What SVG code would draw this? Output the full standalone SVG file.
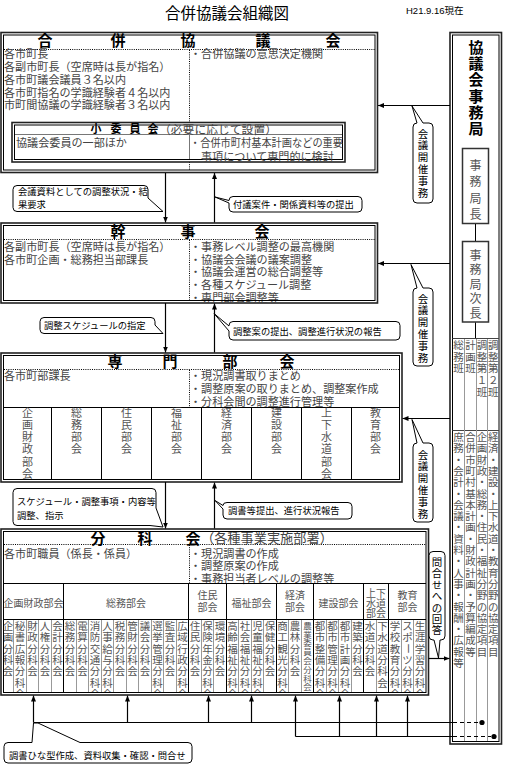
<svg xmlns="http://www.w3.org/2000/svg" width="510" height="764" viewBox="0 0 510 764">
<style>
text{font-family:"Liberation Sans","Noto Sans CJK JP",sans-serif}
.ob{fill:#fff;stroke:#222;stroke-width:1.6}
.ib{fill:none;stroke:#000;stroke-width:1}
.dt{fill:none;stroke:#000;stroke-width:1;stroke-dasharray:1 1.2}
.sl{fill:none;stroke:#000;stroke-width:1}
.gl{fill:none;stroke:#999;stroke-width:1}
.t{font-size:11.1px;fill:#444}
.h{font-size:15px;font-weight:bold;fill:#000;text-anchor:middle}
.v{fill:#555;text-anchor:middle}
.c{font-size:9.3px;fill:#000}
.cv{font-size:10.5px;fill:#000;text-anchor:middle}
.cb{fill:#fff;stroke:#000;stroke-width:1}
.cn{fill:none;stroke:#000;stroke-width:1.2}
.ar{fill:none;stroke:#000;stroke-width:1.2;marker-end:url(#ah)}
.k{font-size:10.5px}
.s{font-size:11px}
.j{font-size:10.5px}
.hd{font-size:10px;fill:#555;text-anchor:middle}
</style>
<defs>
<marker id="ah" viewBox="0 0 6 5" refX="6" refY="2.5" markerWidth="6" markerHeight="5" markerUnits="userSpaceOnUse" orient="auto"><path d="M0,0L6,2.5L0,5Z" fill="#000"/></marker>
<clipPath id="cs"><rect x="3.5" y="407.5" width="396" height="72"/></clipPath>
<clipPath id="cf"><rect x="3.5" y="619.5" width="422.5" height="73"/></clipPath>
</defs>

<g id="title">
<text x="227" y="19" font-size="15.5" text-anchor="middle" fill="#000">合併協議会組織図</text>
<text x="406" y="14" font-size="9.5" fill="#000">H21.9.16現在</text>
</g>

<g id="gappei">
<rect class="ob" x="1" y="32.5" width="376.5" height="140"/>
<rect class="ib" x="3.5" y="35" width="371.5" height="135"/>
<line class="dt" x1="4" y1="49.5" x2="375" y2="49.5"/>
<line class="dt" x1="189.5" y1="50" x2="189.5" y2="122"/>
<line class="dt" x1="189.5" y1="162" x2="189.5" y2="170"/>
<text class="h" y="46.2"><tspan x="45">合</tspan><tspan x="118">併</tspan><tspan x="188">協</tspan><tspan x="263">議</tspan><tspan x="333">会</tspan></text>
<text class="t" x="4"><tspan x="4" y="58.2">各市町長</tspan><tspan x="4" y="71">各副市町長（空席時は長が指名）</tspan><tspan x="4" y="83.8">各市町議会議員３名以内</tspan><tspan x="4" y="96.6">各市町指名の学識経験者４名以内</tspan><tspan x="4" y="109.4">市町間協議の学識経験者３名以内</tspan></text>
<text class="t" x="190" y="58.2">・合併協議の意思決定機関</text>
</g>

<g id="shoiinkai">
<rect class="ob" x="12" y="122.5" width="333" height="39.5"/>
<rect class="ib" x="14.5" y="125" width="328" height="34.5"/>
<line x1="15" y1="134.5" x2="342" y2="134.5" stroke="#777" stroke-width="1"/>
<line x1="189.5" y1="135" x2="189.5" y2="159" stroke="#777" stroke-width="1"/>
<text font-size="11" font-weight="bold" text-anchor="middle" y="133.2"><tspan x="96">小</tspan><tspan x="116">委</tspan><tspan x="135">員</tspan><tspan x="153">会</tspan></text>
<text font-size="11.8" fill="#444" x="159" y="133.6">（必要に応じて設置）</text>
<text class="t" x="16" y="147.2">協議会委員の一部ほか</text>
<text class="t" x="190" y="147.2" textLength="153" lengthAdjust="spacingAndGlyphs">・合併市町村基本計画などの重要</text>
<text class="t" x="201" y="161">事項について専門的に検討</text>
</g>

<g id="kanjikai">
<rect class="ob" x="1" y="223" width="376.5" height="80"/>
<line class="dt" x1="4" y1="239.5" x2="375" y2="239.5"/>
<line class="dt" x1="189.5" y1="240" x2="189.5" y2="300"/>
<text class="h" y="237"><tspan x="118">幹</tspan><tspan x="188">事</tspan><tspan x="262">会</tspan></text>
<text class="t"><tspan x="4" y="251">各副市町長（空席時は長が指名）</tspan><tspan x="4" y="263.7">各市町企画・総務担当部課長</tspan></text>
<text class="t"><tspan x="190" y="251">・事務レベル調整の最高機関</tspan><tspan x="190" y="263.7">・協議会会議の議案調整</tspan><tspan x="190" y="276.4">・協議会運営の総合調整等</tspan><tspan x="190" y="289.1">・各種スケジュール調整</tspan><tspan x="190" y="301.6">・専門部会調整等</tspan></text>
<rect class="ib" x="3.5" y="225.5" width="371.5" height="75"/>
</g>

<g id="senmon">
<rect class="ob" x="1" y="353" width="401" height="129"/>
<line class="dt" x1="4" y1="369.5" x2="399" y2="369.5"/>
<line class="dt" x1="189.5" y1="370" x2="189.5" y2="407"/>
<text class="h" y="367"><tspan x="115">専</tspan><tspan x="170">門</tspan><tspan x="230">部</tspan><tspan x="287">会</tspan></text>
<text class="t" x="4" y="380.2">各市町部課長</text>
<text class="t"><tspan x="190" y="380.2">・現況調書取りまとめ</tspan><tspan x="190" y="393">・調整原案の取りまとめ、調整案作成</tspan><tspan x="190" y="405.6">・分科会間の調整進行管理等</tspan></text>
<path class="sl" d="M3.5,407.5H399.5M51.5,407.5V479.5M101.5,407.5V479.5M151.5,407.5V479.5M201.5,407.5V479.5M251.5,407.5V479.5M301.5,407.5V479.5M351.5,407.5V479.5"/>
<g clip-path="url(#cs)">
<text class="v s" x="27.5 27.5 27.5 27.5 27.5 27.5" y="416.7 428.9 441.1 453.3 465.5 477.7">企画財政部会</text>
<text class="v s" x="76.5 76.5 76.5 76.5" y="416.7 428.9 441.1 453.3">総務部会</text>
<text class="v s" x="126.5 126.5 126.5 126.5" y="416.7 428.9 441.1 453.3">住民部会</text>
<text class="v s" x="176.5 176.5 176.5 176.5" y="416.7 428.9 441.1 453.3">福祉部会</text>
<text class="v s" x="226.5 226.5 226.5 226.5" y="416.7 428.9 441.1 453.3">経済部会</text>
<text class="v s" x="276.5 276.5 276.5 276.5" y="416.7 428.9 441.1 453.3">建設部会</text>
<text class="v s" x="326.5 326.5 326.5 326.5 326.5 326.5" y="416.7 428.9 441.1 453.3 465.5 477.7">上下水道部会</text>
<text class="v s" x="375.5 375.5 375.5 375.5" y="416.7 428.9 441.1 453.3">教育部会</text>
</g>
<rect class="ib" x="3.5" y="355.5" width="396" height="124"/>
</g>

<g id="bunkakai">
<rect class="ob" x="1" y="529" width="427.5" height="166"/>
<line class="dt" x1="4" y1="544.5" x2="426" y2="544.5"/>
<line class="dt" x1="189.5" y1="545" x2="189.5" y2="583"/>
<text class="h" y="543.6"><tspan x="98">分</tspan><tspan x="145">科</tspan><tspan x="193">会</tspan></text>
<text font-size="13.2" fill="#444" x="201" y="543.3">（各種事業実施部署）</text>
<text class="t" x="4" y="557.5">各市町職員（係長・係員）</text>
<text class="t"><tspan x="190" y="557.5">・現況調書の作成</tspan><tspan x="190" y="570">・調整原案の作成</tspan><tspan x="190" y="582.5">・事務担当者レベルの調整等</tspan></text>
<path class="sl" d="M3.5,583.5H426M3.5,619.5H426M63.5,583.5V692.5M188.5,583.5V692.5M226.5,583.5V692.5M276.5,583.5V692.5M313.5,583.5V692.5M363.5,583.5V692.5M388.5,583.5V692.5"/>
<path class="gl" d="M13.5,620V692M26.5,620V692M38.5,620V692M51.5,620V692M76.5,620V692M88.5,620V692M101.5,620V692M113.5,620V692M126.5,620V692M138.5,620V692M151.5,620V692M163.5,620V692M176.5,620V692M201.5,620V692M213.5,620V692M238.5,620V692M251.5,620V692M263.5,620V692M288.5,620V692M301.5,620V692M326.5,620V692M338.5,620V692M351.5,620V692M376.5,620V692M401.5,620V692M413.5,620V692"/>
<text class="hd" x="33.5" y="607">企画財政部会</text>
<text class="hd" x="126" y="607">総務部会</text>
<text class="hd" x="207.5" y="599"><tspan x="207.5">住民</tspan><tspan x="207.5" y="611">部会</tspan></text>
<text class="hd" x="251.5" y="607">福祉部会</text>
<text class="hd" x="295" y="599"><tspan x="295">経済</tspan><tspan x="295" y="611">部会</tspan></text>
<text class="hd" x="338.5" y="607">建設部会</text>
<text class="hd" x="376" y="596.5" font-size="8.8"><tspan x="376">上下</tspan><tspan x="376" y="606.8">水道</tspan><tspan x="376" y="617.1">部会</tspan></text>
<text class="hd" x="407.5" y="599"><tspan x="407.5">教育</tspan><tspan x="407.5" y="611">部会</tspan></text>
<g clip-path="url(#cf)">
<text class="v k" x="8 8 8 8 8" y="630 641.3 652.6 663.9 675.2">企画分科会</text>
<text class="v k" x="20 20 20 20 20 20 20" y="630 641.3 652.6 663.9 675.2 686.5 697.8">秘書広報分科会</text>
<text class="v k" x="32.5 32.5 32.5 32.5 32.5" y="630 641.3 652.6 663.9 675.2">財政分科会</text>
<text class="v k" x="45 45 45 45 45" y="630 641.3 652.6 663.9 675.2">人権分科会</text>
<text class="v k" x="57.5 57.5 57.5 57.5 57.5" y="630 641.3 652.6 663.9 675.2">会計分科会</text>
<text class="v k" x="70 70 70 70 70" y="630 641.3 652.6 663.9 675.2">総務分科会</text>
<text class="v k" x="82.5 82.5 82.5 82.5 82.5" y="630 641.3 652.6 663.9 675.2">電算分科会</text>
<text class="v k" x="95 95 95 95 95 95 95" y="630 641.3 652.6 663.9 675.2 686.5 697.8">消防交通分科会</text>
<text class="v k" x="107.5 107.5 107.5 107.5 107.5 107.5 107.5" y="630 641.3 652.6 663.9 675.2 686.5 697.8">人事給与分科会</text>
<text class="v k" x="120 120 120 120 120" y="630 641.3 652.6 663.9 675.2">税務分科会</text>
<text class="v k" x="132.5 132.5 132.5 132.5 132.5" y="630 641.3 652.6 663.9 675.2">管財分科会</text>
<text class="v k" x="145 145 145 145 145" y="630 641.3 652.6 663.9 675.2">議会分科会</text>
<text class="v k" x="157.5 157.5 157.5 157.5 157.5 157.5 157.5" y="630 641.3 652.6 663.9 675.2 686.5 697.8">選挙管理分科会</text>
<text class="v k" x="170 170 170 170 170" y="630 641.3 652.6 663.9 675.2">監査分科会</text>
<text class="v k" x="182.5 182.5 182.5 182.5 182.5 182.5 182.5" y="630 641.3 652.6 663.9 675.2 686.5 697.8">広域行政分科会</text>
<text class="v k" x="195 195 195 195 195" y="630 641.3 652.6 663.9 675.2">住民分科会</text>
<text class="v k" x="207.5 207.5 207.5 207.5 207.5 207.5 207.5" y="630 641.3 652.6 663.9 675.2 686.5 697.8">保険年金分科会</text>
<text class="v k" x="220 220 220 220 220" y="630 641.3 652.6 663.9 675.2">環境分科会</text>
<text class="v k" x="232.5 232.5 232.5 232.5 232.5 232.5 232.5" y="630 641.3 652.6 663.9 675.2 686.5 697.8">高齢福祉分科会</text>
<text class="v k" x="245 245 245 245 245 245 245" y="630 641.3 652.6 663.9 675.2 686.5 697.8">社会福祉分科会</text>
<text class="v k" x="257.5 257.5 257.5 257.5 257.5 257.5 257.5" y="630 641.3 652.6 663.9 675.2 686.5 697.8">児童福祉分科会</text>
<text class="v k" x="270 270 270 270 270" y="630 641.3 652.6 663.9 675.2">保健分科会</text>
<text class="v k" x="282.5 282.5 282.5 282.5 282.5 282.5 282.5" y="630 641.3 652.6 663.9 675.2 686.5 697.8">商工観光分科会</text>
<text class="v k" x="295 295 295 295 295" y="630 641.3 652.6 663.9 675.2">農林分科会</text>
<text class="v" font-size="8.5" x="307.5 307.5 307.5 307.5 307.5 307.5 307.5 307.5" y="628.7 637.5 646.3 655.1 663.9 672.7 681.5 690.3">農業委員会分科会</text>
<text class="v k" x="320 320 320 320 320 320 320" y="630 641.3 652.6 663.9 675.2 686.5 697.8">都市整備分科会</text>
<text class="v k" x="332.5 332.5 332.5 332.5 332.5 332.5 332.5" y="630 641.3 652.6 663.9 675.2 686.5 697.8">都市管理分科会</text>
<text class="v k" x="345 345 345 345 345 345 345" y="630 641.3 652.6 663.9 675.2 686.5 697.8">都市計画分科会</text>
<text class="v k" x="357.5 357.5 357.5 357.5 357.5" y="630 641.3 652.6 663.9 675.2">建築分科会</text>
<text class="v k" x="370 370 370 370 370" y="630 641.3 652.6 663.9 675.2">水道分科会</text>
<text class="v k" x="382.5 382.5 382.5 382.5 382.5 382.5" y="630 641.3 652.6 663.9 675.2 686.5">下水道分科会</text>
<text class="v k" x="395 395 395 395 395 395 395" y="630 641.3 652.6 663.9 675.2 686.5 697.8">学校教育分科会</text>
<text class="v k" x="407.5 407.5 408.75 407.5 407.5 407.5 407.5" y="630 641.3 643.35 663.9 675.2 686.5 697.8" rotate="0 0 90 0">スポーツ分科会</text>
<text class="v k" x="420 420 420 420 420 420 420" y="630 641.3 652.6 663.9 675.2 686.5 697.8">生涯学習分科会</text>
</g>
<rect class="ib" x="3.5" y="531.5" width="422.5" height="161"/>
</g>

<g id="jimukyoku">
<rect class="ob" x="450" y="32.5" width="51.5" height="711.5"/>
<rect class="ib" x="452.5" y="35" width="46.5" height="706.5"/>
<text x="476 476 476 476 476 476" y="52.7 69 85.3 101.6 117.9 134.2" font-size="15" font-weight="bold" fill="#000" text-anchor="middle">協議会事務局</text>
<rect x="462.5" y="148.5" width="26" height="75" fill="#fff" stroke="#333" stroke-width="1.5"/>
<text class="v" font-size="12" x="475.5 475.5 475.5 475.5" y="169.6 186.2 202.8 219.4">事務局長</text>
<line x1="475.5" y1="224" x2="475.5" y2="241" stroke="#000" stroke-width="1"/>
<rect x="462.5" y="241.5" width="26" height="80.5" fill="#fff" stroke="#333" stroke-width="1.5"/>
<text class="v" font-size="12" x="475.5 475.5 475.5 475.5 475.5" y="259.6 274.2 288.8 303.4 318">事務局次長</text>
<line x1="475.5" y1="322.5" x2="475.5" y2="338" stroke="#000" stroke-width="1"/>
<path d="M452.5,338.5H499M452.5,430.5H499" stroke="#444" stroke-width="1" fill="none"/>
<path class="gl" d="M464.5,339V741M476.5,339V741M487.5,339V741"/>
<text class="v j" x="458.5 458.5 458.5" y="349 360.7 372.4">総務班</text>
<text class="v j" x="470.5 470.5 470.5" y="349 360.7 372.4">計画班</text>
<text class="v j" x="482 482 482 482 482" y="349 360.7 372.4 384.1 395.8">調整第１班</text>
<text class="v j" x="493.3 493.3 493.3 493.3 493.3" y="349 360.7 372.4 384.1 395.8">調整第２班</text>
<text class="v j" x="458.5 458.5 458.5 458.5 458.5 458.5 458.5 458.5 458.5 458.5 458.5 458.5 458.5 458.5 458.5 458.5 458.5 458.5 458.5 458.5 458.5" y="441 452.3 463.6 474.9 486.2 497.5 508.8 520.1 531.4 542.7 554 565.3 576.6 587.9 599.2 610.5 621.8 633.1 644.4 655.7 667">庶務・会計・会議・資料・人事・報酬・広報等</text>
<text class="v j" x="470.5 470.5 470.5 470.5 470.5 470.5 470.5 470.5 470.5 470.5 470.5 470.5 470.5 470.5 470.5 470.5 470.5 470.5 470.5 470.5" y="441 452.3 463.6 474.9 486.2 497.5 508.8 520.1 531.4 542.7 554 565.3 576.6 587.9 599.2 610.5 621.8 633.1 644.4 655.7">合併市町村基本計画・財政計画・予算編成等</text>
<text class="v j" x="482 482 482 482 482 482 482 482 482 482 482 482 482 482 482 482 482 482 482 482" y="441 452.3 463.6 474.9 486.2 497.5 508.8 520.1 531.4 542.7 554 565.3 576.6 587.9 599.2 610.5 621.8 633.1 644.4 655.7">企画財政・総務・住民・福祉分野の協定項目</text>
<text class="v j" x="493.3 493.3 493.3 493.3 493.3 493.3 493.3 493.3 493.3 493.3 493.3 493.3 493.3 493.3 493.3 493.3 493.3 493.3 493.3 493.3" y="441 452.3 463.6 474.9 486.2 497.5 508.8 520.1 531.4 542.7 554 565.3 576.6 587.9 599.2 610.5 621.8 633.1 644.4 655.7">経済・建設・上下水道・教育分野の協定項目</text>
</g>

<g id="connectors">
<line class="ar" x1="450" y1="105.5" x2="378" y2="105.5"/>
<line class="ar" x1="450" y1="263.5" x2="378" y2="263.5"/>
<line class="ar" x1="450" y1="418.5" x2="402.5" y2="418.5"/>
<line class="ar" x1="428.5" y1="658.5" x2="449.5" y2="658.5"/>
<line class="ar" x1="165.5" y1="173" x2="165.5" y2="222.5"/>
<line class="ar" x1="214.5" y1="222.5" x2="214.5" y2="173"/>
<line class="ar" x1="165.5" y1="303" x2="165.5" y2="352.5"/>
<line class="ar" x1="214.5" y1="352.5" x2="214.5" y2="303.5"/>
<line class="ar" x1="165.5" y1="482" x2="165.5" y2="528.5"/>
<line class="ar" x1="214.5" y1="528.5" x2="214.5" y2="482.5"/>
<path class="cn" d="M33.5,722.5H453M295.5,736.5H453"/>
<path class="cn" d="M453,722.5H480M453,736.5H491" stroke-dasharray="4 3"/>
<circle cx="482" cy="722.5" r="2.6" fill="#000"/>
<circle cx="494" cy="736.5" r="2.6" fill="#000"/>
<line class="ar" x1="33.5" y1="722.5" x2="33.5" y2="695.5"/>
<line class="ar" x1="127.5" y1="722.5" x2="127.5" y2="695.5"/>
<line class="ar" x1="208.5" y1="722.5" x2="208.5" y2="695.5"/>
<line class="ar" x1="251.5" y1="722.5" x2="251.5" y2="695.5"/>
<line class="ar" x1="295.5" y1="736.5" x2="295.5" y2="695.5"/>
<line class="ar" x1="339.5" y1="736.5" x2="339.5" y2="695.5"/>
<line class="ar" x1="376.5" y1="736.5" x2="376.5" y2="695.5"/>
<line class="ar" x1="407.5" y1="736.5" x2="407.5" y2="695.5"/>
</g>

<g id="labels">
<path class="cb" d="M17,185.5H144Q148,185.5 148,189.5V198L163,211.5L143,211.5H17Q13,211.5 13,207.5V189.5Q13,185.5 17,185.5Z"/>
<text class="c"><tspan x="18" y="194.8">会議資料としての調整状況・結</tspan><tspan x="18" y="207.8">果要求</tspan></text>
<path class="cb" d="M233,196.5H358Q362,196.5 362,200.5V208Q362,212 358,212H233Q229,212 229,208V203L215,197L229,200.5Q229,196.5 233,196.5Z"/>
<text class="c" x="233" y="207.6">付議案件・関係資料等の提出</text>
<path class="cb" d="M44,317.5H151Q155,317.5 155,321.5V325L163,333.5L153,333.5H44Q40,333.5 40,329.5V321.5Q40,317.5 44,317.5Z"/>
<text class="c" x="44" y="328.8">調整スケジュールの指定</text>
<path class="cb" d="M233,321.5H396Q400,321.5 400,325.5V336Q400,340 396,340H233Q229,340 229,336V331L214,313.5L229,326V325.5Q229,321.5 233,321.5Z"/>
<text class="c" x="233" y="334.6">調整案の提出、調整進行状況の報告</text>
<path class="cb" d="M17,488.5H152Q156,488.5 156,492.5V508L163,527L150,525.5H17Q13,525.5 13,521.5V492.5Q13,488.5 17,488.5Z"/>
<text class="c"><tspan x="17" y="504.6">スケジュール・調整事項・内容等</tspan><tspan x="17" y="518.6">調整、指示</tspan></text>
<path class="cb" d="M227,502.5H348Q352,502.5 352,506.5V515Q352,519 348,519H227Q223,519 223,515V509L215,500.5L223,505.5Q223,502.5 227,502.5Z"/>
<text class="c" x="228" y="514">調書等提出、進行状況報告</text>
<path class="cb" d="M8,742.5H32L33.5,723L38,723L80,742.5H188Q192,742.5 192,746.5V759Q192,763 188,763H8Q4,763 4,759V746.5Q4,742.5 8,742.5Z"/>
<text class="c" x="9" y="758.5">調書ひな型作成、資料収集・確認・問合せ</text>
<path class="cb" d="M413,127Q413,123 417,123L412,106L423,123H429Q433,123 433,127V199Q433,203 429,203H417Q413,203 413,199Z"/>
<text class="cv" x="423 423 423 423 423 423" y="137.5 149.3 161.1 172.9 184.7 196.5">会議開催事務</text>
<path class="cb" d="M413,292Q413,288 417,288L411,264.5L423,288H429Q433,288 433,292V362Q433,366 429,366H417Q413,366 413,362Z"/>
<text class="cv" x="423 423 423 423 423 423" y="302.5 314.3 326.1 337.9 349.7 361.5">会議開催事務</text>
<path class="cb" d="M413,447Q413,443 417,443L412,419.5L423,443H429Q433,443 433,447V518Q433,522 429,522H417Q413,522 413,518Z"/>
<text class="cv" x="423 423 423 423 423 423" y="458.5 470.3 482.1 493.9 505.7 517.5">会議開催事務</text>
<path class="cb" d="M433,551.5H441Q445,551.5 445,555.5V636Q445,640 441,640H440L438.5,658L434,640H433Q429,640 429,636V555.5Q429,551.5 433,551.5Z"/>
<text class="cv" x="437 437 437 437 437 437 437" y="566 577.4 588.8 600.2 611.6 623 634.4">問合せへの回答</text>
</g>
</svg>
